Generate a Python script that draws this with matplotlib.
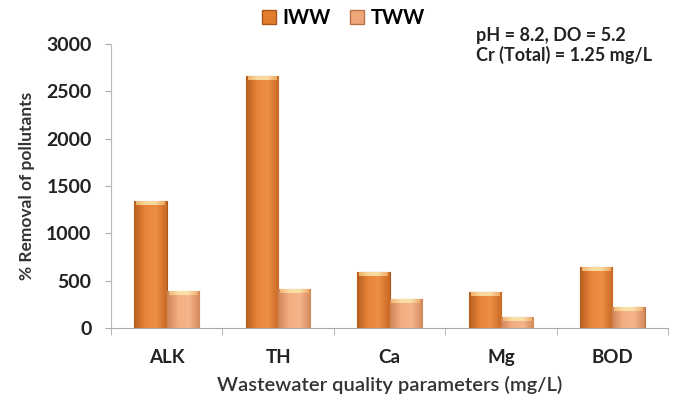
import matplotlib.pyplot as plt
import numpy as np
from matplotlib.colors import LinearSegmentedColormap
from matplotlib.patches import Patch

plt.rcParams['font.family'] = ['Lato', 'DejaVu Sans']

# data
categories = ['ALK', 'TH', 'Ca', 'Mg', 'BOD']
iww = [1340, 2660, 590, 385, 650]
tww = [390, 415, 310, 115, 220]

fig = plt.figure(figsize=(6.73, 4.09), dpi=100)
ax = fig.add_axes([0.165, 0.198, 0.8276, 0.694])

x = np.arange(len(categories))
w = 0.29
b1 = ax.bar(x - w / 2, iww, w, color='#E27D2E', edgecolor='#A9561B', linewidth=0.8, zorder=2)
b2 = ax.bar(x + w / 2, tww, w, color='#EFA679', edgecolor='#B8734A', linewidth=0.8, zorder=2)

# soft horizontal shading + light cap, like the 3D office style bars
cm1 = LinearSegmentedColormap.from_list('c1', ['#B85E1E', '#E8843A', '#EE8E45', '#C86A25'])
cm2 = LinearSegmentedColormap.from_list('c2', ['#D08456', '#F3AE82', '#F6B48A', '#D58A5C'])
capcm = LinearSegmentedColormap.from_list('cap', ['#F6C27A', '#FCE9B0', '#FCE9B0', '#F2B36E'])
grad = np.linspace(0, 1, 64).reshape(1, -1)
for bars, cm in ((b1, cm1), (b2, cm2)):
    for p in bars:
        x0, y0 = p.get_x(), p.get_y()
        ww, hh = p.get_width(), p.get_height()
        im = ax.imshow(grad, cmap=cm, aspect='auto', extent=[x0, x0 + ww, y0, y0 + hh],
                       zorder=2.5, interpolation='bicubic')
        im.set_clip_path(p)
        cap = 35
        ax.imshow(grad, cmap=capcm, aspect='auto', alpha=0.85,
                  extent=[x0 + ww * 0.06, x0 + ww * 0.94, y0 + hh - cap - 8, y0 + hh - 8],
                  zorder=3, interpolation='bicubic')

ax.set_xlim(-0.5, len(categories) - 0.5)
ax.set_ylim(0, 3000)
ax.set_yticks([0, 500, 1000, 1500, 2000, 2500, 3000])
ax.set_xticks(x)
ax.set_xticklabels(categories, fontsize=13.5, fontweight='bold', color='#222222')
ax.set_xticks(np.arange(len(categories) + 1) - 0.5, minor=True)
ax.tick_params(axis='x', which='major', length=0, pad=15)
ax.tick_params(axis='x', which='minor', length=5, color='#AAAAAA', direction='out')
ax.tick_params(axis='y', length=4, color='#AAAAAA', labelsize=14, pad=10)
for t in ax.get_yticklabels():
    t.set_fontweight('bold')
    t.set_color('#222222')

for s in ['top', 'right']:
    ax.spines[s].set_visible(False)
ax.spines['left'].set_color('#BBBBBB')
ax.spines['bottom'].set_color('#AAAAAA')

ax.set_ylabel('% Removal of pollutants', fontsize=12.5, fontweight='bold', color='#333333', labelpad=8)
ax.set_xlabel('Wastewater quality parameters (mg/L)', fontsize=14.5, fontweight='semibold',
              color='#333333', labelpad=7)

handles = [Patch(facecolor='#E27D2E', edgecolor='#A9561B'),
           Patch(facecolor='#EFA679', edgecolor='#B8734A')]
fig.legend(handles, ['IWW', 'TWW'], loc='center', bbox_to_anchor=(0.51, 0.955), ncol=2,
           frameon=False, prop={'size': 14.5, 'weight': 'bold'}, handlelength=0.7,
           handleheight=0.7, handletextpad=0.3, columnspacing=1.0)

fig.text(0.707, 0.913, 'pH = 8.2, DO = 5.2', fontsize=13, fontweight='bold', color='#222222', va='center')
fig.text(0.707, 0.865, 'Cr (Total) = 1.25 mg/L', fontsize=13, fontweight='bold', color='#222222', va='center')

fig.savefig('out.png', dpi=100)
